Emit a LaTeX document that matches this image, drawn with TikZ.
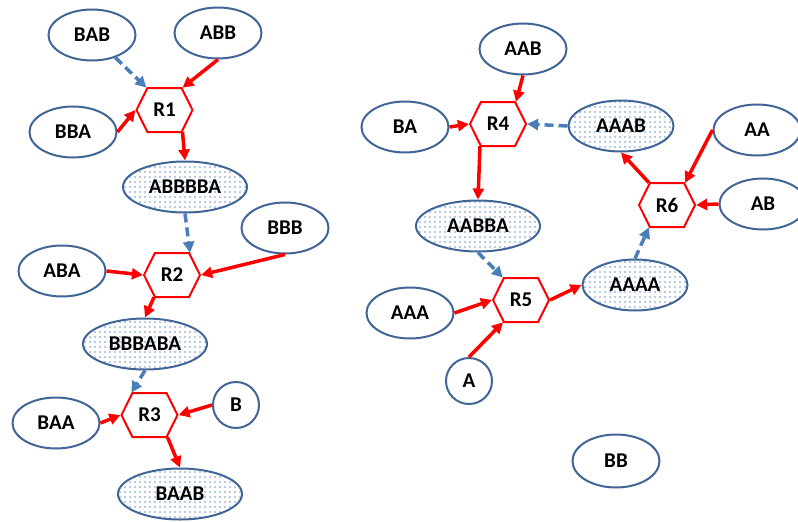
\documentclass[tikz,border=0pt]{standalone}
\usepackage{fontspec}
\setmainfont{Carlito}
\usetikzlibrary{shapes.geometric,shapes.symbols,arrows.meta,patterns.meta}
\definecolor{nodeblue}{RGB}{65,101,150}
\definecolor{catblue}{RGB}{74,126,187}
\definecolor{dotblue}{RGB}{110,150,205}
\tikzset{
species/.style={ellipse, draw=nodeblue, line width=2pt, minimum width=87pt, minimum height=51pt, inner sep=0pt},
product/.style={species, pattern={Dots[distance=5pt,radius=0.9pt]}, pattern color=dotblue},
ion/.style={circle, draw=nodeblue, line width=2pt, minimum size=46pt, inner sep=0pt},
reaction/.style={signal, signal to=west and east, signal pointer angle=127, draw=red, line width=2pt, minimum width=56pt, minimum height=44pt, inner sep=0pt},
flow/.style={draw=red, line width=3.5pt, -{Triangle[length=11pt,width=11pt]}},
catalyst/.style={draw=catblue, line width=3.5pt, dash pattern=on 9pt off 5pt, -{Triangle[length=11pt,width=11pt]}},
every node/.style={font=\fontsize{21}{24}\selectfont\bfseries},
}

\begin{document}
\begin{tikzpicture}[x=1pt,y=-1pt]
        \useasboundingbox (0,0) rectangle (798,522);
        % left chain
        \node[species] (bab) at (92,35) {BAB};
        \node[species] (abb) at (218,33) {ABB};
        \node[species] (bba) at (73,132) {BBA};
        \node[reaction] (r1) at (164.5,110) {R1};
        \node[product,minimum width=124pt] (abbbba) at (185,187) {ABBBBA};
        \node[species] (bbb) at (285,228) {BBB};
        \node[species] (aba) at (62,271) {ABA};
        \node[reaction] (r2) at (172,275) {R2};
        \node[product,minimum width=124pt] (bbbaba) at (145,344) {BBBABA};
        \node[species] (baa) at (56,423) {BAA};
        \node[reaction] (r3) at (149.5,415) {R3};
        \node[ion] (b) at (236,405) {B};
        \node[product,minimum width=124pt] (baab) at (180,494) {BAAB};

        % right chain
        \node[species] (aab) at (523,49) {AAB};
        \node[species] (ba) at (405,127) {BA};
        \node[reaction] (r4) at (498,124) {R4};
        \node[product,minimum width=105pt] (aaab) at (621,126) {AAAB};
        \node[species] (aa) at (757,130) {AA};
        \node[reaction] (r6) at (667,205) {R6};
        \node[species] (ab) at (763,204) {AB};
        \node[product,minimum width=124pt] (aabba) at (478,226) {AABBA};
        \node[product,minimum width=105pt] (aaaa) at (635,285) {AAAA};
        \node[reaction] (r5) at (521,300) {R5};
        \node[species] (aaa) at (410,313) {AAA};
        \node[ion] (a) at (469,381) {A};
        \node[species,minimum height=53pt] (bb) at (616,461) {BB};

        \draw[catalyst] (bab) -- (r1.129);
        \draw[flow] (abb.south) -- (r1.51);
        \draw[flow] (bba.east) -- (r1.west);
        \draw[flow] (r1.309) -- (abbbba.north);

        \draw[catalyst] (abbbba.south) -- (r2.51);
        \draw[flow] (aba.east) -- (r2.west);
        \draw[flow] (bbb.south) -- (r2.east);
        \draw[flow] (r2.231) -- (bbbaba.north);

        \draw[catalyst] (bbbaba.south) -- (r3.129);
        \draw[flow] (baa.east) -- (r3.west);
        \draw[flow] (b.west) -- (r3.east);
        \draw[flow] (r3.309) -- (baab.north);

        \draw[flow] (aab.south) -- (r4.51);
        \draw[flow] (ba.east) -- (r4.west);
        \draw[catalyst] (aaab.west) -- (r4.east);
        \draw[flow] (r4.231) -- (aabba.north);

        \draw[catalyst] (aabba.south) -- (r5.129);
        \draw[flow] (aaa.east) -- (r5.west);
        \draw[flow] (a.north) -- (r5.231);
        \draw[flow] (r5.east) -- (aaaa.west);

        \draw[catalyst] (aaaa.north) -- (r6.231);
        \draw[flow] (aa.west) -- (r6.51);
        \draw[flow] (ab.west) -- (r6.east);
        \draw[flow] (r6.129) -- (aaab.south);
\end{tikzpicture}
\end{document}
